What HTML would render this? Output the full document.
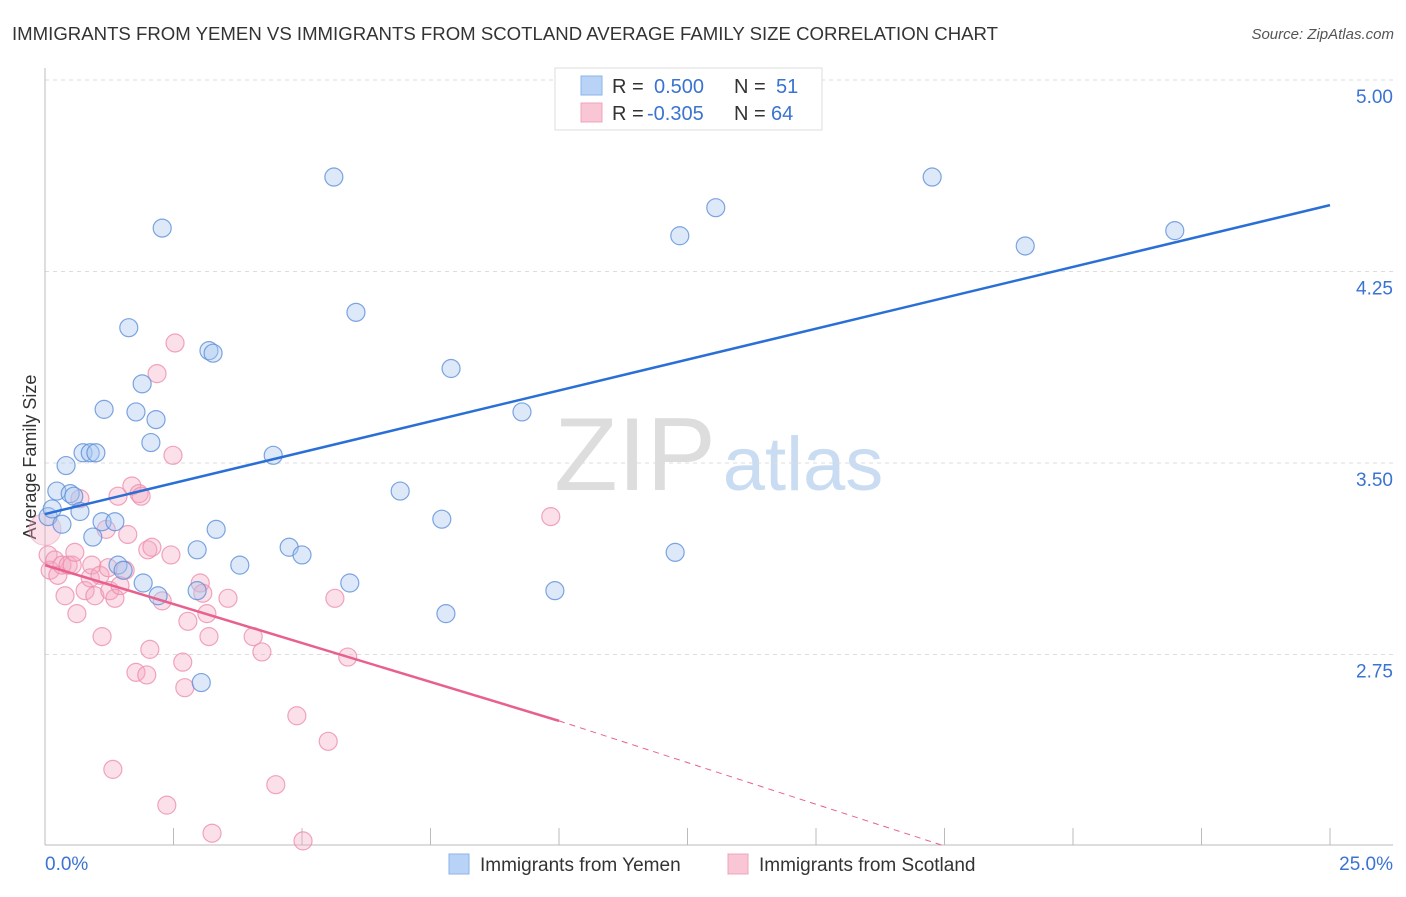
<!DOCTYPE html>
<html><head><meta charset="utf-8"><style>
body{margin:0;background:#fff;font-family:"Liberation Sans",sans-serif}
svg text{font-family:"Liberation Sans",sans-serif}
</style></head><body>
<svg id="chart" width="1406" height="892">
<text x="12" y="40" font-size="18.5" fill="#333" textLength="986" lengthAdjust="spacingAndGlyphs">IMMIGRANTS FROM YEMEN VS IMMIGRANTS FROM SCOTLAND AVERAGE FAMILY SIZE CORRELATION CHART</text>
<text x="1394" y="39" font-size="15" fill="#555" font-style="italic" text-anchor="end">Source: ZipAtlas.com</text>
<text x="36" y="457" font-size="18" fill="#333" text-anchor="middle" transform="rotate(-90 36 457)">Average Family Size</text>
<g><text x="635" y="490" font-size="104" fill="#ddd" font-family="Liberation Serif" text-anchor="middle">ZIP</text><text x="803" y="490" font-size="76" fill="#c9dcf2" text-anchor="middle">atlas</text></g>
<g id="grid"></g><g id="pts"></g><g id="lines"></g>
<g>
<rect x="555" y="68" width="267" height="62" fill="#fff" stroke="#ddd"/>
<rect x="581" y="76" width="21" height="19" fill="#b8d3f5" stroke="#8ab4ea"/>
<rect x="581" y="103" width="21" height="19" fill="#f9c6d5" stroke="#f0a4bb"/>
<text x="612" y="93" font-size="20" fill="#333">R = </text><text x="654" y="93" font-size="20" fill="#3a73d1">0.500</text>
<text x="734" y="93" font-size="20" fill="#333">N = </text><text x="776" y="93" font-size="20" fill="#3a73d1">51</text>
<text x="612" y="120" font-size="20" fill="#333">R = </text><text x="647" y="120" font-size="20" fill="#3a73d1">-0.305</text>
<text x="734" y="120" font-size="20" fill="#333">N = </text><text x="771" y="120" font-size="20" fill="#3a73d1">64</text>
</g>
<g>
<rect x="449" y="854" width="20" height="20" fill="#b8d3f5" stroke="#8ab4ea"/>
<text x="480" y="871" font-size="19" fill="#333">Immigrants from Yemen</text>
<rect x="728" y="854" width="20" height="20" fill="#f9c6d5" stroke="#f0a4bb"/>
<text x="759" y="871" font-size="19" fill="#333">Immigrants from Scotland</text>
</g>
</svg>
<script>
const yTicks=[2.75,3.5,4.25,5.0];
const xTickLabels=["0.0%","25.0%"];
const yemenX=[0.06,0.14,0.23,0.33,0.41,0.49,0.56,0.68,0.74,0.88,0.93,0.99,1.11,1.15,1.36,1.42,1.52,1.63,1.77,1.89,1.91,2.06,2.16,2.20,2.28,2.96,2.96,3.04,3.19,3.27,3.33,3.79,4.44,4.75,5.00,5.62,5.93,6.05,6.91,7.72,7.80,7.90,9.28,9.92,12.26,12.35,13.05,17.26,19.07,21.98];
const yemenY=[3.29,3.32,3.39,3.26,3.49,3.38,3.37,3.31,3.54,3.54,3.21,3.54,3.27,3.71,3.27,3.10,3.08,4.03,3.70,3.81,3.03,3.58,3.67,2.98,4.42,3.16,3.00,2.64,3.94,3.93,3.24,3.10,3.53,3.17,3.14,4.62,3.03,4.09,3.39,3.28,2.91,3.87,3.70,3.00,3.15,4.39,4.50,4.62,4.35,4.41];
const scotX=[0.06,0.10,0.19,0.25,0.33,0.39,0.45,0.53,0.58,0.62,0.68,0.78,0.88,0.91,0.97,1.07,1.11,1.19,1.23,1.26,1.32,1.36,1.42,1.46,1.56,1.61,1.69,1.77,1.83,1.87,1.98,2.00,2.04,2.08,2.18,2.28,2.37,2.45,2.49,2.53,2.68,2.72,2.78,3.02,3.07,3.15,3.19,3.25,3.56,4.05,4.22,4.49,4.90,5.02,5.51,5.64,5.89,9.84];
const scotY=[3.14,3.08,3.12,3.06,3.10,2.98,3.10,3.10,3.15,2.91,3.36,3.00,3.05,3.10,2.98,3.06,2.82,3.24,3.09,3.00,2.30,2.97,3.37,3.02,3.08,3.22,3.41,2.68,3.38,3.37,2.67,3.16,2.77,3.17,3.85,2.96,2.16,3.14,3.53,3.97,2.72,2.62,2.88,3.03,2.99,2.91,2.82,2.05,2.97,2.82,2.76,2.24,2.51,2.02,2.41,2.97,2.74,3.29];
const yemenTrend=[[0,3.30],[25,4.51]];
const scotTrend=[[0,3.10],[10,2.49],[17.5,2.0]];
const X=v=>45+v/25*1285, Y=v=>80+(5-v)*255.33;
const NS="http://www.w3.org/2000/svg";
function mk(t,a,p){const e=document.createElementNS(NS,t);for(const k in a)e.setAttribute(k,a[k]);p.appendChild(e);return e;}
const grid=document.getElementById('grid');
yTicks.forEach(t=>{
 const l=mk('line',{x1:45,x2:1393,y1:Y(t),y2:Y(t),stroke:'#ddd','stroke-dasharray':'4,4'},grid);
 
 
 const tx=mk('text',{x:1393,y:Y(t)+23,'font-size':19,fill:'#3a73d1','text-anchor':'end'},grid);tx.textContent=t.toFixed(2);
 
 
});
const ax=mk('line',{x1:45,x2:1393,y1:845,y2:845,stroke:'#bbb'},grid);


const ay=mk('line',{x1:45,x2:45,y1:68,y2:845,stroke:'#bbb'},grid);


for(let i=1;i<=10;i++){const t=mk('line',{x1:X(i*2.5),x2:X(i*2.5),y1:828,y2:845,stroke:'#bbb'},grid);
 
 }
xTickLabels.forEach((s,i)=>{const t=mk('text',{x:i?1393:45,y:870,'font-size':19,fill:'#3a73d1','text-anchor':i?'end':'start'},grid);t.textContent=s;
 
 });
const pts=document.getElementById('pts');
const big=mk('circle',{cx:X(0),cy:Y(3.24),r:16,fill:'#f4a7bf','fill-opacity':0.35,stroke:'#ee8fad','stroke-opacity':0.5},pts);


scotX.forEach((x,i)=>{const c=mk('circle',{cx:X(x),cy:Y(scotY[i]),r:9,fill:'#f4a7bf','fill-opacity':0.35,stroke:'#ee8fad','stroke-opacity':0.8,'stroke-width':1.2},pts);
 
 });
yemenX.forEach((x,i)=>{const c=mk('circle',{cx:X(x),cy:Y(yemenY[i]),r:9,fill:'#a9c8f0','fill-opacity':0.4,stroke:'#5c8fda','stroke-opacity':0.8,'stroke-width':1.2},pts);
 
 });
const lines=document.getElementById('lines');
const bl=mk('line',{x1:X(yemenTrend[0][0]),y1:Y(yemenTrend[0][1]),x2:X(yemenTrend[1][0]),y2:Y(yemenTrend[1][1]),stroke:'#2a6fd6','stroke-width':2.5},lines);


const pl=mk('line',{x1:X(scotTrend[0][0]),y1:Y(scotTrend[0][1]),x2:X(scotTrend[1][0]),y2:Y(scotTrend[1][1]),stroke:'#e8618c','stroke-width':2.5},lines);


const pd=mk('line',{x1:X(scotTrend[1][0]),y1:Y(scotTrend[1][1]),x2:X(scotTrend[2][0]),y2:Y(scotTrend[2][1]),stroke:'#e8618c','stroke-width':1,'stroke-dasharray':'6,5'},lines);


</script>
</body></html>
